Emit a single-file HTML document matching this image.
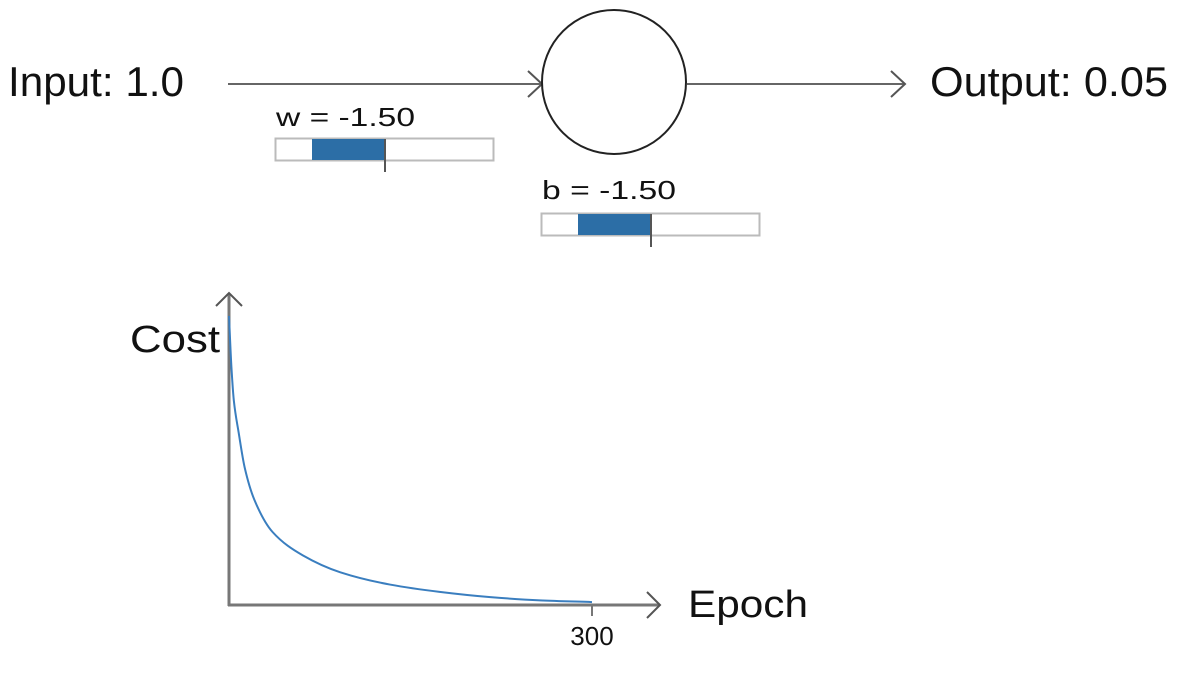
<!DOCTYPE html>
<html><head><meta charset="utf-8"><style>
html,body{margin:0;padding:0;background:#fff;}
svg{display:block;font-family:"Liberation Sans",sans-serif;}
</style></head><body>
<svg id="s" width="1196" height="674" viewBox="0 0 1196 674">
  <g>
    <line x1="228" y1="84" x2="542" y2="84" stroke="#666" stroke-width="2"/>
    <polyline points="528,71 542,84 528,97" fill="none" stroke="#555" stroke-width="2"/>
  </g>
  <text x="8" y="96" font-size="42" textLength="176" lengthAdjust="spacingAndGlyphs" fill="#111">Input: 1.0</text>
  <circle cx="614" cy="82" r="72" fill="#fff" stroke="#222" stroke-width="2"/>
  <g>
    <line x1="687" y1="84" x2="905" y2="84" stroke="#666" stroke-width="2"/>
    <polyline points="891,71 905,84 891,97" fill="none" stroke="#555" stroke-width="2"/>
  </g>
  <text x="930" y="96" font-size="42" textLength="238" lengthAdjust="spacingAndGlyphs" fill="#111">Output: 0.05</text>

  <text x="276" y="126" font-size="26" textLength="139" lengthAdjust="spacingAndGlyphs" fill="#111">w = -1.50</text>
  <g>
    <rect x="275.5" y="138.5" width="218" height="22" fill="#fff" stroke="#bbb" stroke-width="2"/>
    <rect x="312" y="139" width="73" height="21" fill="#2c6ea6"/>
    <line x1="385" y1="139" x2="385" y2="172" stroke="#555" stroke-width="2"/>
  </g>
  <text x="542" y="199" font-size="26" textLength="134" lengthAdjust="spacingAndGlyphs" fill="#111">b = -1.50</text>
  <g>
    <rect x="541.5" y="213.5" width="218" height="22" fill="#fff" stroke="#bbb" stroke-width="2"/>
    <rect x="578" y="214" width="73" height="21" fill="#2c6ea6"/>
    <line x1="651" y1="214" x2="651" y2="247" stroke="#555" stroke-width="2"/>
  </g>

  <g id="chart">
    <line x1="229" y1="293" x2="229" y2="606" stroke="#777" stroke-width="3"/>
    <polyline points="216,306 229,293 242,306" fill="none" stroke="#555" stroke-width="2"/>
    <line x1="228" y1="605" x2="660" y2="605" stroke="#777" stroke-width="3"/>
    <polyline points="647,592 660,605 647,618" fill="none" stroke="#555" stroke-width="2"/>
    <text x="130" y="352" font-size="38" textLength="90" lengthAdjust="spacingAndGlyphs" fill="#111">Cost</text>
    <text x="688" y="617" font-size="38" textLength="120" lengthAdjust="spacingAndGlyphs" fill="#111">Epoch</text>
  </g>
</svg>
<script>
const epochs = [0, 2, 4, 8, 13, 21, 36, 61, 92, 133, 174, 216, 257, 300];
const costs = [0.99, 0.815, 0.70, 0.59, 0.47, 0.36, 0.25, 0.17, 0.112, 0.07, 0.045, 0.027, 0.016, 0.01];
const xTicks = [300];
const xMax = 300, yMax = 1.0;
function xs(v){ return 229 + v / xMax * 363; }
function ys(v){ return 605 - v / yMax * 292; }
const ns = 'http://www.w3.org/2000/svg';
const chart = document.getElementById('chart');
// monotone cubic interpolation
const px = epochs.map(xs), py = costs.map(ys), n = px.length;
const dx = [], sl = [];
for (let i = 0; i < n - 1; i++) { dx.push(px[i+1]-px[i]); sl.push((py[i+1]-py[i])/dx[i]); }
const m = [sl[0]];
for (let i = 1; i < n - 1; i++) {
  if (sl[i-1]*sl[i] <= 0) m.push(0);
  else { const w1 = 2*dx[i]+dx[i-1], w2 = dx[i]+2*dx[i-1]; m.push((w1+w2)/(w1/sl[i-1]+w2/sl[i])); }
}
m.push(sl[n-2]);
let d = 'M' + px[0] + ',' + py[0];
for (let i = 0; i < n - 1; i++) {
  const h = dx[i]/3;
  d += ' C' + (px[i]+h) + ',' + (py[i]+m[i]*h) + ' ' + (px[i+1]-h) + ',' + (py[i+1]-m[i+1]*h) + ' ' + px[i+1] + ',' + py[i+1];
}
const path = document.createElementNS(ns, 'path');
path.setAttribute('d', d);
path.setAttribute('fill', 'none');
path.setAttribute('stroke', '#3a7ebf');
path.setAttribute('stroke-width', '2');


chart.appendChild(path);
xTicks.forEach(t => {
  const ln = document.createElementNS(ns, 'line');
  ln.setAttribute('x1', xs(t)); ln.setAttribute('x2', xs(t));
  ln.setAttribute('y1', 605); ln.setAttribute('y2', 616);
  ln.setAttribute('stroke', '#777'); ln.setAttribute('stroke-width', '2');
  
  
  chart.appendChild(ln);
  const tx = document.createElementNS(ns, 'text');
  tx.setAttribute('x', xs(t)); tx.setAttribute('y', 645);
  tx.setAttribute('text-anchor', 'middle'); tx.setAttribute('font-size', '26');
  tx.setAttribute('fill', '#111');
  tx.textContent = t;
  
  
  chart.appendChild(tx);
});
</script>
</body></html>
